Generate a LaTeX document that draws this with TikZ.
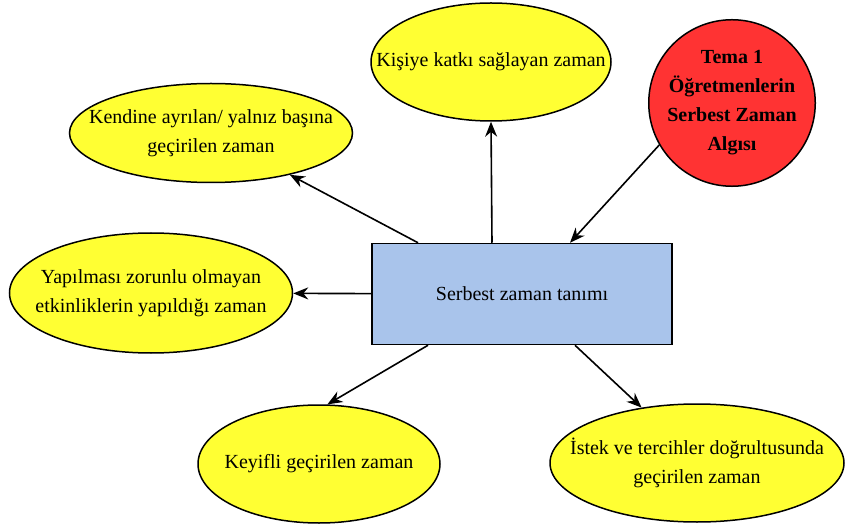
\documentclass[tikz,border=0pt]{standalone}
\usepackage{fontspec}
\setmainfont{Liberation Serif}
\usetikzlibrary{shapes.geometric,arrows.meta}

\definecolor{bubbleyellow}{HTML}{FFFF33}
\definecolor{themered}{HTML}{FF3333}
\definecolor{boxblue}{HTML}{A9C4EB}

\tikzset{
  bubble/.style={ellipse, draw=black, line width=1.5pt, fill=bubbleyellow, inner sep=-150pt, align=center},
  centrebox/.style={rectangle, draw=black, line width=1.5pt, fill=boxblue, minimum width=300pt, minimum height=101pt},
  themecircle/.style={circle, draw=black, line width=1.5pt, fill=themered, minimum size=160pt, inner sep=0pt, align=center, font=\fontsize{20}{29}\selectfont\bfseries},
  link/.style={line width=1.6pt, -{Stealth[length=15pt,width=12pt]}}
}

\begin{document}
\begin{tikzpicture}[x=1pt,y=-1pt,font=\fontsize{20}{29}\selectfont]
\useasboundingbox (0,0) rectangle (846,529);

\node[centrebox] (centre) at (522,294) {Serbest zaman tanımı};

\node[bubble, minimum width=240pt, minimum height=118pt] (katki) at (491,62) {Kişiye katkı sağlayan zaman};
\node[themecircle] (tema) at (732,103) {Tema 1\\Öğretmenlerin\\Serbest Zaman\\Algısı};
\node[bubble, minimum width=283pt, minimum height=99pt] (kendine) at (211,133) {Kendine ayrılan/ yalnız başına\\geçirilen zaman};
\node[bubble, minimum width=283pt, minimum height=120pt] (yapilmasi) at (151,293) {Yapılması zorunlu olmayan\\etkinliklerin yapıldığı zaman};
\node[bubble, minimum width=242pt, minimum height=118pt] (keyifli) at (319,464) {Keyifli geçirilen zaman};
\node[bubble, minimum width=294pt, minimum height=118pt] (istek) at (697,463) {İstek ve tercihler doğrultusunda\\geçirilen zaman};

\draw[link] ([xshift=-30pt]centre.north) -- (katki.south);
\draw[link] ([xshift=-104pt]centre.north) -- (kendine);
\draw[link] (centre) -- (yapilmasi);
\draw[link] ([xshift=-94pt]centre.south) -- (keyifli.82);
\draw[link] ([xshift=53pt]centre.south) -- (istek.135);
\draw[link] (tema.210) -- ([xshift=48pt]centre.north);
\end{tikzpicture}
\end{document}
